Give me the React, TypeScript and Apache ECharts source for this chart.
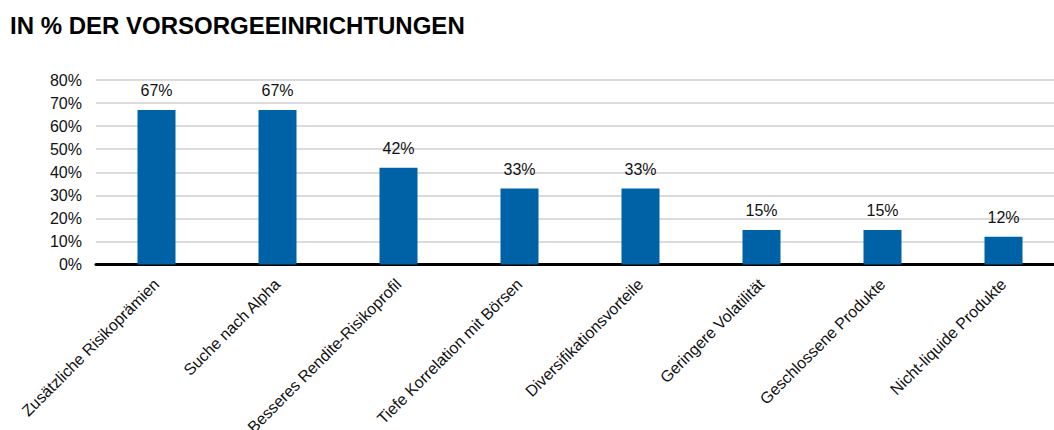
import React, { useEffect, useRef } from "react";
import * as echarts from "echarts";

const title = "IN % DER VORSORGEEINRICHTUNGEN";
const categories = [
  "Zusätzliche Risikoprämien",
  "Suche nach Alpha",
  "Besseres Rendite-Risikoprofil",
  "Tiefe Korrelation mit Börsen",
  "Diversifikationsvorteile",
  "Geringere Volatilität",
  "Geschlossene Produkte",
  "Nicht-liquide Produkte",
];
const values = [67, 67, 42, 33, 33, 15, 15, 12];

export default function App() {
  const ref = useRef<HTMLDivElement>(null);
  useEffect(() => {
    if (!ref.current) return;
    const chart = echarts.init(ref.current, null, { renderer: "svg" });
    const font = "Liberation Sans, Arial, sans-serif";
    chart.setOption({
      animation: false,
      title: {
        text: title,
        left: 5,
        top: 8,
        textStyle: { fontFamily: font, fontSize: 24, fontWeight: "bold", color: "#000" },
      },
      grid: { left: 96, top: 80, width: 968, height: 184.5, outerBoundsMode: "none" },
      xAxis: {
        type: "category",
        data: categories,
        axisLine: { show: true, lineStyle: { color: "#000", width: 3 } },
        axisTick: { show: false },
        axisLabel: {
          rotate: 45,
          interval: 0,
          margin: 17,
          fontFamily: font,
          fontSize: 16,
          color: "#111",
        },
      },
      yAxis: {
        type: "value",
        min: 0,
        max: 80,
        interval: 10,
        axisLine: { show: false },
        axisTick: { show: false },
        splitLine: { lineStyle: { color: "#cfcfcf", width: 1.5 } },
        axisLabel: {
          formatter: "{value}%",
          margin: 14,
          fontFamily: font,
          fontSize: 16,
          color: "#111",
        },
      },
      series: [
        {
          type: "bar",
          data: values,
          barWidth: 38,
          itemStyle: { color: "#0062a6" },
          label: {
            show: true,
            position: "top",
            distance: 11,
            formatter: "{c}%",
            fontFamily: font,
            fontSize: 16,
            color: "#111",
          },
        },
      ],
    });
    return () => chart.dispose();
  }, []);
  return (
    <div style={{ position: "absolute", left: 0, top: 0, width: 1054, height: 430, overflow: "hidden", background: "#fff" }}>
      <div ref={ref} style={{ width: 1080, height: 430 }} />
    </div>
  );
}
